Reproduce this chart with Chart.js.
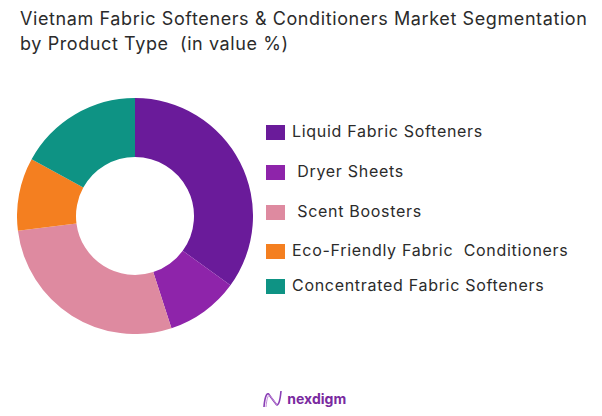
<!DOCTYPE html>
<html>
<head>
<meta charset="utf-8">
<script src="https://cdn.jsdelivr.net/npm/chart.js@4"></script>
<style>
  html, body { margin: 0; padding: 0; background: #fff; }
  body { width: 602px; height: 416px; position: relative; overflow: hidden; font-family: Inter, "Open Sans", sans-serif; }
  #title { position: absolute; left: 20px; top: 6px; font-size: 18px; line-height: 25px; color: #2b2b2b; letter-spacing: 0.6px; }
  #wrap { position: absolute; left: 17px; top: 98px; width: 236px; height: 236px; }
  #legend { position: absolute; left: 266px; top: 1px; }
  .item { position: absolute; left: 0; white-space: pre; font-size: 16px; letter-spacing: 0.7px; color: #2b2b2b; }
  .box { position: absolute; left: 0; top: 2px; width: 19px; height: 15px; }
  .lbl { position: absolute; left: 26px; top: -1px; line-height: 19px; }
  #logo { position: absolute; left: 262px; top: 390px; font-size: 14px; font-weight: 700; color: #7a2aa0; }
</style>
</head>
<body>
<div id="title">Vietnam Fabric Softeners &amp; Conditioners Market Segmentation<br>by Product Type&nbsp; (in value %)</div>
<div id="wrap"><canvas id="chart"></canvas></div>
<div id="legend"></div>
<div id="logo"><svg width="22" height="18" viewBox="0 0 22 18" style="vertical-align:-4px"><path d="M2 17 C3 4 6 1 8 6 L14 14 C16 17 18 12 19 1" fill="none" stroke="#8a3fb5" stroke-width="1.6"/><path d="M4 17 C5 6 7 3 9 7 L15 15" fill="none" stroke="#c28ad8" stroke-width="1"/></svg> nexdigm</div>
<script>
// Vietnam fabric softeners & conditioners – share by product type (value %)
const labels = [
  'Liquid Fabric Softeners',
  ' Dryer Sheets',
  ' Scent Boosters',
  'Eco-Friendly Fabric  Conditioners',
  'Concentrated Fabric Softeners'
];
const shares = [35, 10, 28, 10, 17];
const colors = ['#6A1B9A', '#8E24AA', '#DE8AA0', '#F47F20', '#0E9384'];

// legend rows (y of each row, px)
const legendTops = [122, 162, 202, 241, 276];

const legend = document.getElementById('legend');
labels.forEach((t, i) => {
  const row = document.createElement('div');
  row.className = 'item';
  row.style.top = legendTops[i] + 'px';
  row.innerHTML = '<span class="box" style="background:' + colors[i] + '"></span><span class="lbl"></span>';
  row.querySelector('.lbl').textContent = t;
  legend.appendChild(row);
});

new Chart(document.getElementById('chart'), {
  type: 'doughnut',
  data: {
    labels: labels,
    datasets: [{
      data: shares,
      backgroundColor: colors,
      borderWidth: 0
    }]
  },
  options: {
    responsive: true,
    maintainAspectRatio: false,
    animation: false,
    cutout: '50%',
    layout: { padding: 0 },
    plugins: {
      legend: { display: false },
      tooltip: { enabled: false }
    }
  }
});
</script>
</body>
</html>
